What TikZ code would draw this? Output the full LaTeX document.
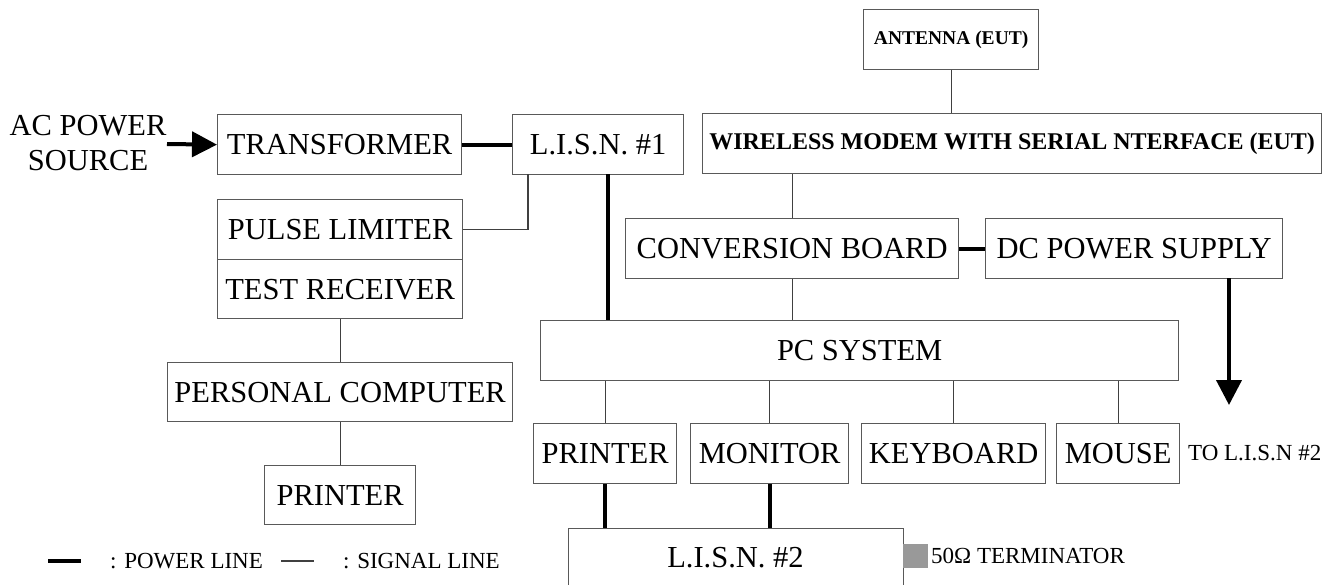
\documentclass[tikz,border=0pt]{standalone}
\usepackage{fontspec}
\setmainfont{Liberation Serif}
\usetikzlibrary{arrows.meta}

\tikzset{
  blk/.style={draw=black!65, line width=1.3pt, inner sep=0pt, anchor=north west,
              font=\fontsize{30.5}{36}\selectfont},
  eut/.style={blk, font=\fontsize{24}{28}\selectfont\bfseries},
  pwr/.style={line width=4pt, black},
  sig/.style={line width=1.3pt, black!75},
  parr/.style={pwr, -{Triangle[length=25pt, width=25pt]}},
  small/.style={font=\fontsize{23}{27}\selectfont, inner sep=0pt},
  legendtxt/.style={font=\fontsize{23}{27}\selectfont, inner sep=0pt, anchor=west}
}

\begin{document}
\begin{tikzpicture}[x=1pt, y=-1pt]
  \useasboundingbox (0,0) rectangle (1338,584);
  \fill[white] (0,0) rectangle (1338,584);
  \clip (0,0) rectangle (1338,584);

  % equipment under test
  \node[eut, font=\fontsize{19.5}{23}\selectfont\bfseries, minimum width=175pt, minimum height=60pt]
       (ant) at (863,9) {ANTENNA (EUT)};
  \node[eut, minimum width=619pt, minimum height=60pt] (wl) at (702,113)
       {WIRELESS MODEM WITH SERIAL NTERFACE (EUT)};

  % mains side
  \node[font=\fontsize{30.5}{35}\selectfont, align=center, inner sep=0pt] (ac) at (88,143)
       {AC POWER\\SOURCE};
  \node[blk, minimum width=244pt, minimum height=60pt] (tr) at (217,114) {TRANSFORMER};
  \node[blk, minimum width=171pt, minimum height=60pt] (lisn1) at (512,114) {L.I.S.N. \#1};

  % measurement chain
  \node[blk, minimum width=245pt, minimum height=60pt] (pulse) at (217,199) {PULSE LIMITER};
  \node[blk, minimum width=245pt, minimum height=59pt] (test) at (217,259) {TEST RECEIVER};
  \node[blk, minimum width=345pt, minimum height=59pt] (pc) at (167,362) {PERSONAL COMPUTER};
  \node[blk, minimum width=151pt, minimum height=59pt] (prl) at (264,465) {PRINTER};

  % support equipment
  \node[blk, minimum width=333pt, minimum height=60pt] (conv) at (625,218) {CONVERSION BOARD};
  \node[blk, minimum width=297pt, minimum height=60pt] (dc) at (985,218) {DC POWER SUPPLY};
  \node[blk, minimum width=638pt, minimum height=60pt] (pcsys) at (540,320) {PC SYSTEM};

  \node[blk, minimum width=143pt, minimum height=60pt] (prn) at (533,423) {PRINTER};
  \node[blk, minimum width=158pt, minimum height=60pt] (mon) at (690,423) {MONITOR};
  \node[blk, minimum width=184pt, minimum height=60pt] (kbd) at (861,423) {KEYBOARD};
  \node[blk, minimum width=123pt, minimum height=60pt] (mouse) at (1056,423) {MOUSE};
  \node[small, anchor=west] (tolisn) at (1188,453) {TO L.I.S.N \#2};

  \node[blk, minimum width=335pt, minimum height=90pt] (lisn2) at (568,528) {};
  \node[font=\fontsize{30.5}{35}\selectfont, inner sep=0pt] (lisn2txt) at (735.5,558) {L.I.S.N. \#2};
  \node[fill=black!40, inner sep=0pt, minimum width=25pt, minimum height=24pt,
        anchor=north west] (term) at (903,544) {};
  \node[small, anchor=west] (termtxt) at (931,556) {50Ω TERMINATOR};

  % connectors
  \coordinate (acin) at (167,144);
  \draw[parr] (acin) -- (tr.west);
  \draw[pwr] (tr.east) -- (lisn1.west);
  \coordinate (l1sig) at (528,174);
  \draw[sig] (pulse.east) -| (l1sig);
  \coordinate (l1pwr) at (608,174);
  \draw[pwr] (l1pwr) -- (l1pwr |- pcsys.north);

  \draw[sig] (ant.south) -- (ant.south |- wl.north);
  \draw[sig] (conv.north) -- (conv.north |- wl.south);
  \draw[sig] (conv.south) -- (conv.south |- pcsys.north);
  \draw[pwr] (conv.east) -- (dc.west);
  \coordinate (dcout) at (1229,278);
  \coordinate (dcend) at (1229,405);
  \draw[parr] (dcout) -- (dcend);

  \draw[sig] (test.south) -- (pc.north);
  \draw[sig] (pc.south) -- (prl.north);

  \foreach \n in {prn, mon, kbd, mouse}
    \draw[sig] (\n.north) -- (\n.north |- pcsys.south);
  \draw[pwr] (prn.south) -- (prn.south |- lisn2.north);
  \draw[pwr] (mon.south) -- (mon.south |- lisn2.north);

  % legend
  \coordinate (lgpa) at (48,561);
  \coordinate (lgpb) at (81,561);
  \draw[pwr] (lgpa) -- (lgpb);
  \node[legendtxt] (lgptxt) at (110,561) {: POWER LINE};
  \coordinate (lgsa) at (281,561);
  \coordinate (lgsb) at (314,561);
  \draw[sig] (lgsa) -- (lgsb);
  \node[legendtxt] (lgstxt) at (343,561) {: SIGNAL LINE};
\end{tikzpicture}
\end{document}
